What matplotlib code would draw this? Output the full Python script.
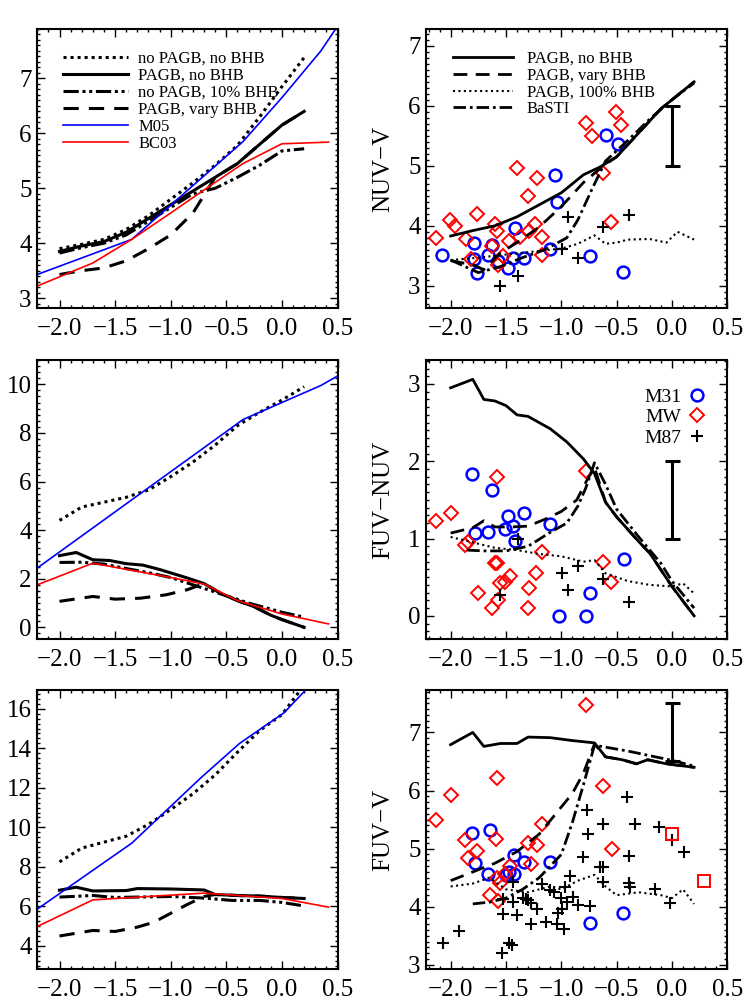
import numpy as np
import matplotlib
matplotlib.use('Agg')
import matplotlib.pyplot as plt
from matplotlib.ticker import MultipleLocator, FuncFormatter

plt.rcParams['font.family'] = ['Liberation Serif', 'DejaVu Serif']

# ---------------- metallicity grid used by most model tracks
z12 = [-2.0, -1.8, -1.6, -1.4, -1.2, -1.0, -0.8, -0.6, -0.4, -0.2, 0.0, 0.2]

# ---------------- top left: NUV-V, model comparison
tl_nopagb_y = [3.9, 3.98, 4.07, 4.25, 4.5, 4.8, 5.1, 5.42, 5.78, 6.3, 6.85, 7.38]
tl_pagb_y = [3.85, 3.95, 4.03, 4.2, 4.45, 4.7, 4.95, 5.2, 5.45, 5.8, 6.15, 6.4]
tl_bhb10_y = [3.82, 3.92, 4.0, 4.15, 4.4, 4.65, 4.9, 5.0, 5.2, 5.42, 5.68, 5.72]
tl_vary_y = [3.43, 3.5, 3.55, 3.68, 3.9, 4.15, 4.55, 5.2, 5.45, 5.8, 6.15, 6.4]
tl_m05_x = [-2.2, -1.35, -0.35, 0.0, 0.35, 0.5]
tl_m05_y = [3.43, 4.07, 5.85, 6.65, 7.5, 7.95]
tl_bc03_x = [-2.2, -1.7, -1.35, -1.0, -0.7, -0.35, 0.0, 0.42]
tl_bc03_y = [3.22, 3.64, 4.07, 4.55, 4.97, 5.45, 5.81, 5.84]

# ---------------- middle left: FUV-NUV
ml_nopagb_y = [4.4, 4.95, 5.15, 5.35, 5.65, 6.2, 6.8, 7.5, 8.3, 8.85, 9.35, 9.9]
ml_pagb_x = [-2.0, -1.85, -1.7, -1.55, -1.4, -1.25, -1.1, -0.85, -0.7, -0.55, -0.4, -0.25, -0.1, 0.0, 0.2]
ml_pagb_y = [2.95, 3.08, 2.78, 2.75, 2.62, 2.56, 2.38, 2.03, 1.8, 1.4, 1.1, 0.85, 0.5, 0.32, 0.0]
ml_bhb10_x = [-2.0, -1.8, -1.6, -1.4, -1.2, -1.0, -0.8, -0.7, -0.5, -0.3, -0.1, 0.0, 0.2]
ml_bhb10_y = [2.67, 2.68, 2.6, 2.42, 2.25, 2.05, 1.75, 1.6, 1.3, 1.0, 0.75, 0.62, 0.42]
ml_vary_x = [-2.0, -1.7, -1.5, -1.27, -1.04, -0.85, -0.7, -0.55, -0.4, -0.25, -0.1, 0.0, 0.2]
ml_vary_y = [1.07, 1.27, 1.16, 1.2, 1.34, 1.55, 1.8, 1.4, 1.1, 0.85, 0.5, 0.32, 0.0]
ml_m05_x = [-2.2, -0.35, 0.35, 0.5]
ml_m05_y = [2.44, 8.55, 9.95, 10.34]
ml_bc03_x = [-2.2, -1.7, -1.0, -0.7, -0.4, 0.0, 0.42]
ml_bc03_y = [1.75, 2.64, 2.05, 1.78, 1.1, 0.55, 0.14]

# ---------------- bottom left: FUV-V
bl_nopagb_y = [8.25, 8.95, 9.25, 9.55, 10.15, 10.9, 11.7, 12.65, 13.8, 14.9, 15.7, 17.2]
bl_pagb_x = [-2.0, -1.85, -1.7, -1.4, -1.3, -1.0, -0.7, -0.6, -0.4, -0.2, 0.0, 0.2]
bl_pagb_y = [6.82, 6.97, 6.78, 6.8, 6.9, 6.88, 6.83, 6.6, 6.55, 6.52, 6.45, 6.4]
bl_bhb10_x = [-2.0, -1.7, -1.5, -1.0, -0.7, -0.45, -0.2, 0.0, 0.2]
bl_bhb10_y = [6.47, 6.55, 6.45, 6.5, 6.42, 6.3, 6.3, 6.2, 6.02]
bl_vary_x = [-2.0, -1.7, -1.5, -1.3, -1.15, -1.0, -0.85, -0.7, -0.6, -0.4, -0.2, 0.0, 0.2]
bl_vary_y = [4.5, 4.78, 4.73, 4.95, 5.2, 5.65, 6.1, 6.5, 6.6, 6.55, 6.52, 6.45, 6.4]
bl_m05_x = [-2.2, -1.35, -0.73, -0.38, 0.02, 0.23]
bl_m05_y = [5.86, 9.2, 12.5, 14.25, 15.8, 17.05]
bl_bc03_x = [-2.2, -1.7, -0.7, 0.0, 0.42]
bl_bc03_y = [4.98, 6.33, 6.67, 6.4, 5.96]

# ---------------- top right: NUV-V vs data
tr_pagb_x = [-2.0, -1.8, -1.6, -1.4, -1.2, -1.0, -0.8, -0.65, -0.5, -0.3, -0.1, 0.0, 0.2]
tr_pagb_y = [3.83, 3.92, 4.0, 4.15, 4.35, 4.55, 4.85, 4.98, 5.15, 5.55, 5.95, 6.1, 6.4]
tr_vary_x = [-2.0, -1.8, -1.7, -1.55, -1.4, -1.2, -1.0, -0.8, -0.62, -0.5, -0.3, -0.1, 0.0, 0.2]
tr_vary_y = [3.42, 3.35, 3.27, 3.55, 3.72, 3.98, 4.32, 4.72, 5.0, 5.15, 5.55, 5.95, 6.1, 6.4]
tr_bhb100_x = [-2.0, -1.8, -1.5, -1.2, -1.0, -0.85, -0.7, -0.6, -0.5, -0.4, -0.2, -0.05, 0.05, 0.2]
tr_bhb100_y = [3.43, 3.46, 3.52, 3.58, 3.62, 3.7, 3.84, 3.7, 3.72, 3.77, 3.78, 3.72, 3.9, 3.77]
tr_basti_x = [-2.0, -1.75, -1.55, -1.35, -1.15, -0.95, -0.85, -0.72, -0.6, -0.4, -0.2, 0.0, 0.2]
tr_basti_y = [3.43, 3.22, 3.32, 3.47, 3.6, 3.8, 4.1, 4.62, 5.08, 5.42, 5.78, 6.1, 6.38]
tr_m31_x = [-2.08, -1.79, -1.79, -1.76, -1.66, -1.63, -1.57, -1.48, -1.44, -1.42, -1.34, -1.1, -1.06, -1.04, -0.74, -0.6, -0.49, -0.44]
tr_m31_y = [3.51, 3.72, 3.44, 3.21, 3.51, 3.68, 3.41, 3.3, 3.46, 3.96, 3.47, 3.61, 4.84, 4.4, 3.49, 5.52, 5.37, 3.23]
tr_mw_x = [-2.13, -2.01, -1.96, -1.86, -1.82, -1.76, -1.63, -1.6, -1.58, -1.57, -1.53, -1.47, -1.4, -1.37, -1.3, -1.29, -1.24, -1.22, -1.17, -1.17, -0.78, -0.72, -0.62, -0.55, -0.51, -0.46]
tr_mw_y = [3.79, 4.1, 4.0, 3.78, 3.45, 4.2, 3.66, 4.03, 3.92, 3.35, 3.49, 3.74, 4.96, 3.81, 4.5, 3.92, 4.03, 4.8, 3.81, 3.52, 5.71, 5.49, 4.88, 4.06, 5.9, 5.68]
tr_m87_x = [-1.55, -1.39, -0.94, -0.99, -0.85, -0.62, -0.39]
tr_m87_y = [2.99, 3.17, 4.14, 3.62, 3.46, 3.98, 4.18]
tr_err = (0.0, 5.5, 0.5)

# ---------------- middle right: FUV-NUV vs data
mr_pagb_x = [-2.0, -1.8, -1.7, -1.6, -1.5, -1.4, -1.3, -1.1, -0.95, -0.8, -0.7, -0.6, -0.5, -0.3, -0.2, 0.0, 0.2]
mr_pagb_y = [2.95, 3.06, 2.8, 2.78, 2.72, 2.6, 2.58, 2.42, 2.25, 2.03, 1.84, 1.47, 1.28, 0.96, 0.81, 0.38, 0.0]
mr_vary_x = [-2.0, -1.8, -1.7, -1.6, -1.45, -1.3, -1.13, -1.0, -0.86, -0.77, -0.7, -0.6, -0.5, -0.3, -0.2, 0.0, 0.2]
mr_vary_y = [1.07, 1.14, 1.23, 1.15, 1.15, 1.16, 1.26, 1.35, 1.5, 1.75, 1.92, 1.47, 1.28, 0.96, 0.81, 0.38, 0.0]
mr_bhb100_x = [-2.0, -1.8, -1.6, -1.4, -1.2, -1.0, -0.8, -0.7, -0.6, -0.4, -0.2, 0.0, 0.1, 0.2]
mr_bhb100_y = [1.02, 0.95, 0.88, 0.85, 0.8, 0.77, 0.7, 0.72, 0.55, 0.45, 0.4, 0.38, 0.42, 0.29]
mr_basti_x = [-1.85, -1.7, -1.5, -1.3, -1.1, -0.95, -0.85, -0.78, -0.7, -0.6, -0.5, -0.3, -0.1, 0.0, 0.2]
mr_basti_y = [0.85, 0.84, 0.84, 0.9, 1.08, 1.2, 1.42, 1.65, 1.98, 1.7, 1.38, 1.02, 0.68, 0.45, 0.1]
mr_m31_x = [-1.81, -1.63, -1.78, -1.66, -1.51, -1.48, -1.44, -1.42, -1.34, -1.1, -1.02, -0.78, -0.74, -0.43]
mr_m31_y = [1.84, 1.63, 1.07, 1.09, 1.12, 1.29, 1.16, 0.97, 1.33, 1.19, 0.0, 0.0, 0.3, 0.74]
mr_mw_x = [-2.13, -2.0, -1.87, -1.84, -1.75, -1.63, -1.58, -1.6, -1.58, -1.57, -1.55, -1.51, -1.46, -1.3, -1.29, -1.23, -1.17, -0.78, -0.62, -0.55]
mr_mw_y = [1.23, 1.33, 0.92, 0.96, 0.29, 0.1, 1.8, 0.68, 0.68, 0.21, 0.42, 0.44, 0.51, 0.1, 0.36, 0.56, 0.82, 1.88, 0.69, 0.44]
mr_m87_x = [-1.55, -1.39, -0.99, -0.94, -0.85, -0.62, -0.39]
mr_m87_y = [0.27, 1.0, 0.56, 0.34, 0.64, 0.47, 0.18]
mr_err = (0.0, 1.5, 0.5)

# ---------------- bottom right: FUV-V vs data
br_pagb_x = [-2.0, -1.8, -1.7, -1.55, -1.4, -1.3, -1.1, -0.9, -0.7, -0.6, -0.45, -0.32, -0.22, -0.05, 0.2]
br_pagb_y = [6.79, 7.0, 6.76, 6.81, 6.81, 6.92, 6.91, 6.86, 6.82, 6.58, 6.53, 6.46, 6.53, 6.46, 6.4]
br_vary_x = [-2.0, -1.8, -1.6, -1.4, -1.2, -1.05, -0.9, -0.8, -0.7, -0.6, -0.45, -0.32, -0.22, -0.05, 0.2]
br_vary_y = [4.45, 4.6, 4.75, 4.95, 5.25, 5.6, 5.95, 6.3, 6.8, 6.58, 6.53, 6.46, 6.53, 6.46, 6.4]
br_bhb100_x = [-2.0, -1.8, -1.65, -1.5, -1.3, -1.1, -1.0, -0.85, -0.7, -0.6, -0.5, -0.3, -0.1, 0.0, 0.1, 0.2]
br_bhb100_y = [4.35, 4.4, 4.5, 4.3, 4.25, 4.35, 4.3, 4.45, 4.55, 4.35, 4.2, 4.25, 4.2, 4.15, 4.3, 4.05]
br_basti_x = [-1.8, -1.65, -1.5, -1.35, -1.2, -1.0, -0.9, -0.8, -0.7, -0.4, 0.0, 0.2]
br_basti_y = [4.05, 4.08, 4.15, 4.3, 4.5, 4.9, 5.45, 6.1, 6.78, 6.68, 6.52, 6.42]
br_m31_x = [-1.81, -1.64, -1.78, -1.66, -1.5, -1.47, -1.43, -1.43, -1.34, -1.1, -0.74, -0.44]
br_m31_y = [5.27, 5.32, 4.75, 4.56, 4.55, 4.6, 4.57, 4.89, 4.77, 4.77, 3.73, 3.9]
br_mw_x = [-2.13, -2.0, -1.87, -1.84, -1.76, -1.64, -1.58, -1.59, -1.58, -1.57, -1.55, -1.51, -1.46, -1.3, -1.27, -1.22, -1.17, -0.78, -0.62, -0.54]
br_mw_y = [5.5, 5.92, 5.15, 4.84, 4.96, 4.2, 6.22, 5.16, 4.49, 4.1, 4.41, 4.57, 4.7, 5.09, 4.73, 5.07, 5.43, 7.48, 6.07, 4.99]
br_sq_x = [0.0, 0.29]
br_sq_y = [5.25, 4.44]
br_m87_x = [-2.07, -1.92, -1.54, -1.47, -1.45, -1.53, -1.53, -1.44, -1.44, -1.4, -1.3, -1.27, -1.27, -1.22,
            -1.17, -1.14, -1.1, -1.07, -1.04, -1.03, -1.0, -0.99, -0.98, -0.97, -0.95, -0.92, -0.89, -0.85,
            -0.8, -0.77, -0.76, -0.74, -0.65, -0.62, -0.62, -0.62, -0.41, -0.39, -0.39, -0.38, -0.33, -0.15,
            -0.12, -0.02, 0.0, 0.11, -1.35, -1.32]
br_m87_y = [3.37, 3.59, 3.2, 3.38, 3.34, 3.88, 4.13, 4.43, 4.09, 3.86, 4.12, 3.71, 4.06, 3.96,
            4.4, 3.74, 4.29, 4.26, 3.71, 3.89, 4.16, 3.97, 3.61, 4.34, 4.09, 4.53, 4.17, 4.03,
            4.86, 5.66, 5.26, 4.02, 4.69, 5.43, 4.42, 4.69, 5.89, 4.87, 4.41, 4.34, 5.43, 4.3,
            5.37, 4.07, 5.15, 4.95, 4.15, 4.13]
br_err = (0.0, 7.0, 0.5)

# ---------------- line styles
LW = 2.2
st_nopagb = dict(color='k', lw=LW, ls=(0, (1, 1.3)))
st_pagb = dict(color='k', lw=LW, ls='-')
st_bhb10 = dict(color='k', lw=LW, ls=(0, (5, 1.2, 1, 1.2, 1, 1.2)))
st_vary = dict(color='k', lw=LW, ls=(0, (5, 3.3)))
st_m05 = dict(color='#0000ff', lw=1.2)
st_bc03 = dict(color='#ff0000', lw=1.2)

RW = 2.0
rs_pagb = dict(color='k', lw=RW, ls='-')
rs_vary = dict(color='k', lw=RW, ls=(0, (5, 3)))
rs_bhb100 = dict(color='k', lw=1.5, ls=(0, (1, 1.6)))
rs_basti = dict(color='k', lw=RW, ls=(0, (4.5, 1.4, 1, 1.4)))

mk_m31 = dict(ls='none', marker='o', ms=8.5, mfc='none', mec='#0000ff', mew=1.8)
mk_mw = dict(ls='none', marker='D', ms=7, mfc='none', mec='#ff0000', mew=1.4)
mk_m87 = dict(ls='none', marker='+', ms=9, color='k', mew=1.5)
mk_sq = dict(ls='none', marker='s', ms=9, mfc='none', mec='#ff0000', mew=1.4)


def fmt_x(v, pos):
    return f"{v:.1f}".replace('-', '\u2212')


def style(ax, xlim, ylim, ymaj, ymin):
    ax.set_xlim(*xlim)
    ax.set_ylim(*ylim)
    ax.xaxis.set_major_locator(MultipleLocator(0.5))
    ax.xaxis.set_minor_locator(MultipleLocator(0.1))
    ax.xaxis.set_major_formatter(FuncFormatter(fmt_x))
    ax.yaxis.set_major_locator(MultipleLocator(ymaj))
    ax.yaxis.set_minor_locator(MultipleLocator(ymin))
    ax.tick_params(which='both', direction='in', top=True, right=True,
                   width=1.0, labelsize=18)
    ax.tick_params(which='major', length=5.5)
    ax.tick_params(which='minor', length=2.5)
    ax.tick_params(axis='x', which='major', pad=7)
    ax.tick_params(axis='y', which='major', pad=4)
    for s in ax.spines.values():
        s.set_linewidth(1.5)


fig = plt.figure(figsize=(7.5, 10), dpi=100)
lx, lw_ = 0.0497, 0.4003
rx, rw_ = 0.5684, 0.4013
h = 0.279
ax_tl = fig.add_axes([lx, 0.692, lw_, h])
ax_ml = fig.add_axes([lx, 0.361, lw_, h])
ax_bl = fig.add_axes([lx, 0.031, lw_, h])
ax_tr = fig.add_axes([rx, 0.692, rw_, h])
ax_mr = fig.add_axes([rx, 0.361, rw_, h])
ax_br = fig.add_axes([rx, 0.031, rw_, h])

# left column: models
ax_tl.plot(z12, tl_nopagb_y, label='no PAGB, no BHB', **st_nopagb)
ax_tl.plot(z12, tl_pagb_y, label='PAGB, no BHB', **st_pagb)
ax_tl.plot(z12, tl_bhb10_y, label='no PAGB, 10% BHB', **st_bhb10)
ax_tl.plot(z12, tl_vary_y, label='PAGB, vary BHB', **st_vary)
ax_tl.plot(tl_m05_x, tl_m05_y, label='M05', **st_m05)
ax_tl.plot(tl_bc03_x, tl_bc03_y, label='BC03', **st_bc03)
ax_tl.legend(loc='upper left', bbox_to_anchor=(0.086, 0.922), frameon=False,
             fontsize=12, handlelength=3.9, handletextpad=0.6,
             labelspacing=0.06, borderpad=0, borderaxespad=0)

ax_ml.plot(z12, ml_nopagb_y, **st_nopagb)
ax_ml.plot(ml_pagb_x, ml_pagb_y, **st_pagb)
ax_ml.plot(ml_bhb10_x, ml_bhb10_y, **st_bhb10)
ax_ml.plot(ml_vary_x, ml_vary_y, **st_vary)
ax_ml.plot(ml_m05_x, ml_m05_y, **st_m05)
ax_ml.plot(ml_bc03_x, ml_bc03_y, **st_bc03)

ax_bl.plot(z12, bl_nopagb_y, **st_nopagb)
ax_bl.plot(bl_pagb_x, bl_pagb_y, **st_pagb)
ax_bl.plot(bl_bhb10_x, bl_bhb10_y, **st_bhb10)
ax_bl.plot(bl_vary_x, bl_vary_y, **st_vary)
ax_bl.plot(bl_m05_x, bl_m05_y, **st_m05)
ax_bl.plot(bl_bc03_x, bl_bc03_y, **st_bc03)

style(ax_tl, (-2.2, 0.5), (2.82, 7.9), 1, 0.1)
style(ax_ml, (-2.2, 0.5), (-0.48, 11.0), 2, 0.25)
style(ax_bl, (-2.2, 0.5), (2.83, 16.95), 2, 0.25)

# right column: models vs data
for ax, d in ((ax_tr, (tr_m31_x, tr_m31_y, tr_mw_x, tr_mw_y, tr_m87_x, tr_m87_y)),
              (ax_mr, (mr_m31_x, mr_m31_y, mr_mw_x, mr_mw_y, mr_m87_x, mr_m87_y)),
              (ax_br, (br_m31_x, br_m31_y, br_mw_x, br_mw_y, br_m87_x, br_m87_y))):
    ax.plot(d[0], d[1], label='M31', **mk_m31)
    ax.plot(d[2], d[3], label='MW', **mk_mw)
    ax.plot(d[4], d[5], label='M87', **mk_m87)
ax_br.plot(br_sq_x, br_sq_y, **mk_sq)

lt = [ax_tr.plot(tr_pagb_x, tr_pagb_y, label='PAGB, no BHB', **rs_pagb)[0],
      ax_tr.plot(tr_vary_x, tr_vary_y, label='PAGB, vary BHB', **rs_vary)[0],
      ax_tr.plot(tr_bhb100_x, tr_bhb100_y, label='PAGB, 100% BHB', **rs_bhb100)[0],
      ax_tr.plot(tr_basti_x, tr_basti_y, label='BaSTI', **rs_basti)[0]]
ax_tr.legend(handles=lt, loc='upper left', bbox_to_anchor=(0.09, 0.922), frameon=False,
             fontsize=12, handlelength=3.55, handletextpad=0.85,
             labelspacing=0.05, borderpad=0, borderaxespad=0)

ax_mr.plot(mr_pagb_x, mr_pagb_y, **rs_pagb)
ax_mr.plot(mr_vary_x, mr_vary_y, **rs_vary)
ax_mr.plot(mr_bhb100_x, mr_bhb100_y, **rs_bhb100)
ax_mr.plot(mr_basti_x, mr_basti_y, **rs_basti)
hm = ax_mr.get_lines()[:3]
ax_mr.legend(handles=hm, loc='upper right', bbox_to_anchor=(0.925, 0.9), frameon=False,
             fontsize=14, markerfirst=False, handlelength=0.8, handletextpad=0.4,
             labelspacing=0.15, borderpad=0, borderaxespad=0)

ax_br.plot(br_pagb_x, br_pagb_y, **rs_pagb)
ax_br.plot(br_vary_x, br_vary_y, **rs_vary)
ax_br.plot(br_bhb100_x, br_bhb100_y, **rs_bhb100)
ax_br.plot(br_basti_x, br_basti_y, **rs_basti)

for ax, e in ((ax_tr, tr_err), (ax_mr, mr_err), (ax_br, br_err)):
    ax.errorbar([e[0]], [e[1]], yerr=[e[2]], fmt='none', ecolor='k',
                elinewidth=2.2, capsize=5.4, capthick=2.2)

style(ax_tr, (-2.22, 0.5), (2.63, 7.28), 1, 0.1)
style(ax_mr, (-2.22, 0.5), (-0.3, 3.31), 1, 0.1)
style(ax_br, (-2.22, 0.5), (2.93, 7.73), 1, 0.1)

ax_tr.set_ylabel('NUV\u2212V', fontsize=18, labelpad=10)
ax_mr.set_ylabel('FUV\u2212NUV', fontsize=18, labelpad=10)
ax_br.set_ylabel('FUV\u2212V', fontsize=18, labelpad=10)

fig.savefig('out.png', dpi=100)
